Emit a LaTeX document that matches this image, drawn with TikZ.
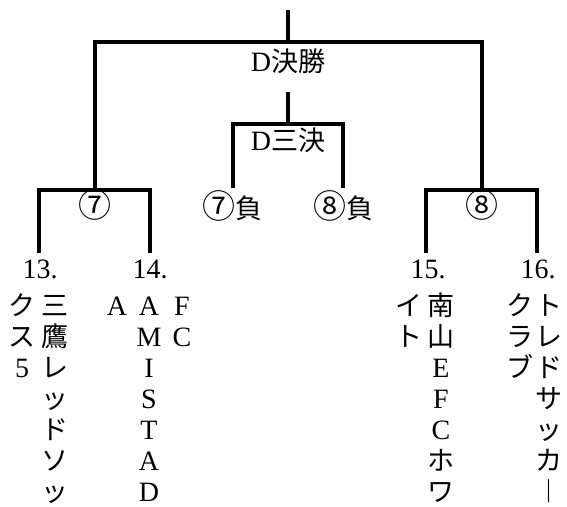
\documentclass[tikz,border=0pt]{standalone}
\usepackage{fontspec}
\setmainfont{Liberation Serif}
\newfontfamily\jp{Noto Sans CJK JP}
\newcommand\lat[1]{{\rmfamily\fontsize{28}{31}\selectfont #1}}
\newcommand\rnd[1]{{\fontsize{33}{31}\selectfont #1}}
\newcommand\fr{\rule{0pt}{24pt}}

\begin{document}
\begin{tikzpicture}[x=1pt,y=-1pt,line width=3.2pt]

      \useasboundingbox (0,0) rectangle (567,506);

      % bracket points
      \coordinate (top)  at (288,10);
      \coordinate (fin)  at (288,42);
      \coordinate (w7)   at (95,190);
      \coordinate (w8)   at (482,190);
      \coordinate (3top) at (288,92);
      \coordinate (3bar) at (288,124);
      \coordinate (l7)   at (233,188);
      \coordinate (l8)   at (343,188);
      \coordinate (t13)  at (39,253);
      \coordinate (t14)  at (150,253);
      \coordinate (t15)  at (426,253);
      \coordinate (t16)  at (537,253);

      \draw (top) -- (fin);
      \draw (w7) |- (fin) -| (w8);
      \draw (3top) -- (3bar);
      \draw (l7) |- (3bar) -| (l8);
      \draw (t13) |- (w7) -| (t14);
      \draw (t15) |- (w8) -| (t16);

      \begin{scope}[every node/.style={font=\jp\fontsize{27}{31}\selectfont,inner sep=0pt}]
        \node (final) at (288,61)  {\lat{D}決勝};
        \node (third) at (288,140) {\lat{D}三決};
        \node (m7)    at (95,205)  {\rnd{⑦}};
        \node (m8)    at (482,205) {\rnd{⑧}};
        \node (lose7) at (232,206) {\rnd{⑦}負};
        \node (lose8) at (343,206) {\rnd{⑧}負};

        \node[anchor=base] (n13) at (40,278)  {\lat{13.}};
        \node[anchor=base] (n14) at (150,278) {\lat{14.}};
        \node[anchor=base] (n15) at (428,278) {\lat{15.}};
        \node[anchor=base] (n16) at (538,278) {\lat{16.}};
      \end{scope}

      \begin{scope}[every node/.style={font=\jp\fontsize{27}{31}\selectfont,inner sep=0pt,anchor=north,align=center}]
        \node (13a) at (55,290)  {\fr 三\\鷹\\レ\\ッ\\ド\\ソ\\ッ};
        \node (13b) at (22,290)  {\fr ク\\ス\\\lat{5}};
        \node (14a) at (182,290) {\fr\lat{F}\\\lat{C}};
        \node (14b) at (149,290) {\fr\lat{A}\\\lat{M}\\\lat{I}\\\lat{S}\\\lat{T}\\\lat{A}\\\lat{D}};
        \node (14c) at (117,290) {\fr\lat{A}};
        \node (15a) at (441,290) {\fr 南\\山\\\lat{E}\\\lat{F}\\\lat{C}\\ホ\\ワ};
        \node (15b) at (409,290) {\fr イ\\ト};
        \node (16a) at (549,290) {\fr ト\\レ\\ド\\サ\\ッ\\カ\\︱};
        \node (16b) at (520,290) {\fr ク\\ラ\\ブ};
      \end{scope}

\end{tikzpicture}
\end{document}
